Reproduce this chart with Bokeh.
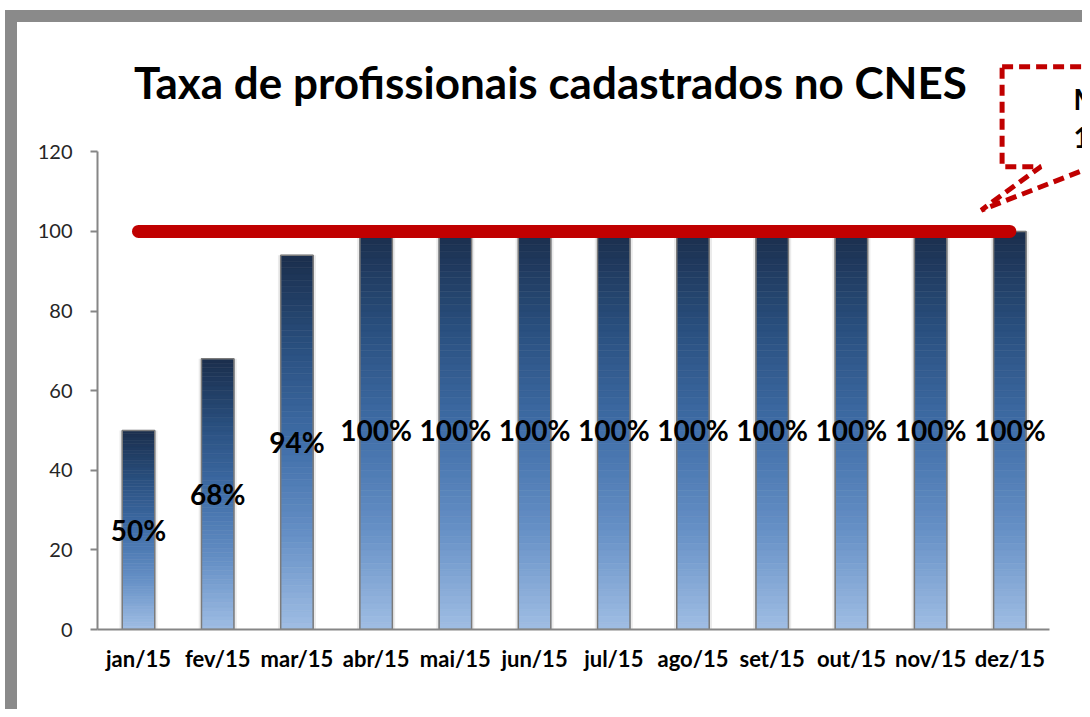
from bokeh.plotting import figure
from bokeh.models import Label, PolyAnnotation, Range1d, FixedTicker
from bokeh.embed import file_html
from bokeh.resources import INLINE
from bokeh.core.properties import value

title_text = "Taxa de profissionais cadastrados no CNES"
months = ["jan/15", "fev/15", "mar/15", "abr/15", "mai/15", "jun/15",
          "jul/15", "ago/15", "set/15", "out/15", "nov/15", "dez/15"]
rates = [50, 68, 94, 100, 100, 100, 100, 100, 100, 100, 100, 100]
rate_labels = ["50%", "68%", "94%", "100%", "100%", "100%",
               "100%", "100%", "100%", "100%", "100%", "100%"]
target = 100
callout_lines = ["Meta", "100%"]
y_ticks = [0, 20, 40, 60, 80, 100, 120]

FONT = "Lato"
W, H = 1082, 709

# category positions (one unit per month, centred at i + 0.5)
xpos = [i + 0.5 for i in range(len(months))]

# helpers mapping reference-picture pixels to data coordinates (for decorations only)
X0, XU = 99.1, 79.8          # pixel of x=0, pixels per category
Y0, YU = 636.0, 483.0 / 120  # pixel of y=0, pixels per unit
def dx(px):
    return (px - X0) / XU
def dy(py):
    return (Y0 - py) / YU

p = figure(x_range=Range1d(dx(97.7), dx(1090)), y_range=Range1d(0, dy(0)),
           width=W, height=H, output_backend="svg", toolbar_location=None,
           min_border_left=97, min_border_right=0, min_border_top=0, min_border_bottom=80)
p.background_fill_color = None
p.border_fill_color = None
p.outline_line_color = None
p.xgrid.grid_line_color = None
p.ygrid.grid_line_color = None
p.styles = {
    "background-color": "white",
    "background-image": "linear-gradient(#8a8a8a, #8a8a8a), linear-gradient(#8a8a8a, #8a8a8a)",
    "background-size": "12px 100%, 100% 12px",
    "background-position": "5px 10px, 5px 10px",
    "background-repeat": "no-repeat",
}

# y axis
p.yaxis.ticker = FixedTicker(ticks=y_ticks)
p.yaxis.bounds = (0, 120)
p.yaxis.axis_line_color = "#868686"
p.yaxis.axis_line_width = 2
p.yaxis.major_tick_line_color = "#868686"
p.yaxis.major_tick_line_width = 2
p.yaxis.major_tick_out = 7
p.yaxis.major_tick_in = 0
p.yaxis.minor_tick_line_color = None
p.yaxis.major_label_text_font = FONT
p.yaxis.major_label_text_font_size = "20px"
p.yaxis.major_label_text_color = "#262626"
p.yaxis.major_label_standoff = 18

# x axis
p.xaxis.ticker = FixedTicker(ticks=xpos)
p.xaxis.major_label_overrides = {x: m for x, m in zip(xpos, months)}
p.xaxis.bounds = (dx(97.7), len(months))
p.xaxis.axis_line_color = "#868686"
p.xaxis.axis_line_width = 2
p.xaxis.major_tick_line_color = None
p.xaxis.major_tick_out = 0
p.xaxis.major_tick_in = 0
p.xaxis.minor_tick_line_color = None
p.xaxis.major_label_text_font = FONT
p.xaxis.major_label_text_font_style = "bold"
p.xaxis.major_label_text_font_size = "22px"
p.xaxis.major_label_text_color = "black"
p.xaxis.major_label_standoff = 15

# gradient bars: stacked slices from light (bottom) to dark (top)
stops = [(0.0, (0xA0, 0xBE, 0xE4)), (0.25, (0x66, 0x90, 0xC6)), (0.5, (0x40, 0x6E, 0xA8)),
         (0.75, (0x2A, 0x50, 0x80)), (1.0, (0x1A, 0x2E, 0x4C))]

def grad(t):
    for (t0, c0), (t1, c1) in zip(stops[:-1], stops[1:]):
        if t <= t1:
            f = (t - t0) / (t1 - t0)
            return "#%02x%02x%02x" % tuple(int(round(a + (b - a) * f)) for a, b in zip(c0, c1))
    return "#%02x%02x%02x" % stops[-1][1]

N = 60
sx, sb, st, sc = [], [], [], []
for x, v in zip(xpos, rates):
    for k in range(N):
        sx.append(x)
        sb.append(v * k / N)
        st.append(v * (k + 1) / N)
        sc.append(grad((k + 0.5) / N))

BW = 0.41
p.vbar(x=xpos, top=rates, width=BW + 0.07, fill_color="#ebebeb", line_color=None)
p.vbar(x=sx, bottom=sb, top=st, width=BW, fill_color=sc, line_color=sc, line_width=0.6)
p.vbar(x=xpos, top=rates, width=BW, fill_color=None, line_color="#7b7b7b", line_width=1.5)

# data labels at half height
p.text(x=xpos, y=[v / 2 for v in rates], text=rate_labels, text_align="center",
       text_baseline="middle", text_font=value(FONT), text_font_style="bold",
       text_font_size="28px", text_color="black")

# target line
p.line(x=[xpos[0], xpos[-1]], y=[target, target], line_width=13,
       line_color="#C00000", line_cap="round")

# title
p.add_layout(Label(x=dx(554), y=dy(82), text=title_text, text_align="center",
                   text_baseline="alphabetic", text_font=FONT, text_font_style="bold",
                   text_font_size="44px", text_color="black"))

# callout box with pointer (dashed)
cx = [dx(v) for v in (1009, 1160, 1160, 1100, 988, 1048, 1009)]
cy = [dy(v) for v in (67, 67, 168, 168, 212, 168, 168)]
p.add_layout(PolyAnnotation(xs=cx, ys=cy, fill_color="white", fill_alpha=1.0,
                            line_color="#C00000", line_alpha=1.0, line_width=5,
                            line_dash="11 6"))
p.add_layout(Label(x=dx(1114), y=dy(100), text=callout_lines[0], text_align="center",
                   text_baseline="middle", text_font=FONT, text_font_style="bold",
                   text_font_size="28px", text_color="black"))
p.add_layout(Label(x=dx(1117), y=dy(138), text=callout_lines[1], text_align="center",
                   text_baseline="middle", text_font=FONT, text_font_style="bold",
                   text_font_size="28px", text_color="black"))

open("out.html", "w").write(file_html(p, INLINE))
